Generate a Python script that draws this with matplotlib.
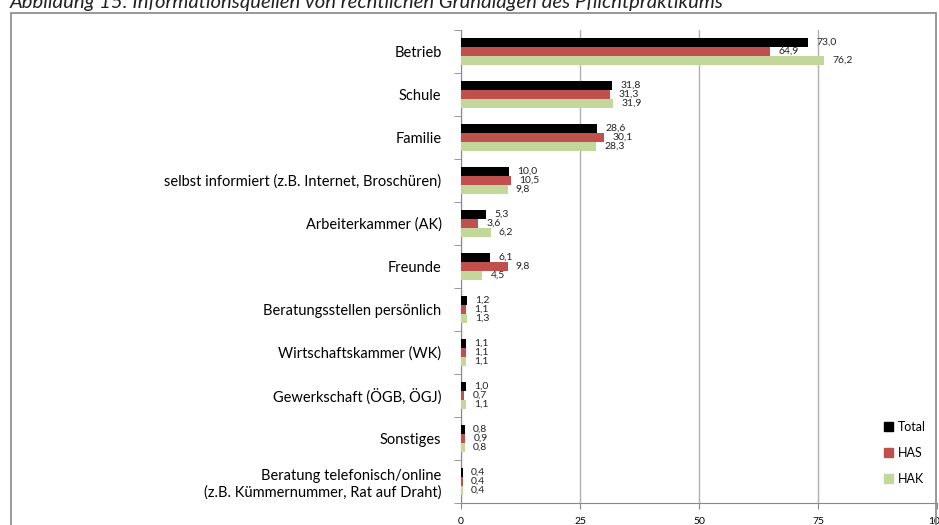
import matplotlib.pyplot as plt
import numpy as np
from matplotlib.patches import Rectangle, Patch

plt.rcParams['font.family'] = ['Lato', 'DejaVu Sans']

categories = ['Betrieb', 'Schule', 'Familie',
              'selbst informiert (z.B. Internet, Broschüren)',
              'Arbeiterkammer (AK)', 'Freunde',
              'Beratungsstellen persönlich', 'Wirtschaftskammer (WK)',
              'Gewerkschaft (ÖGB, ÖGJ)', 'Sonstiges',
              'Beratung telefonisch/online\n(z.B. Kümmernummer, Rat auf Draht)']
total = [73.0, 31.8, 28.6, 10.0, 5.3, 6.1, 1.2, 1.1, 1.0, 0.8, 0.4]
has = [64.9, 31.3, 30.1, 10.5, 3.6, 9.8, 1.1, 1.1, 0.7, 0.9, 0.4]
hak = [76.2, 31.9, 28.3, 9.8, 6.2, 4.5, 1.3, 1.1, 1.1, 0.8, 0.4]
series = ['Total', 'HAS', 'HAK']
colors = ['#000000', '#C0504D', '#C4D79B']
xticks = [0, 25, 50, 75, 100]

fig = plt.figure(figsize=(9.39, 5.25), dpi=100)
ax = fig.add_axes([461 / 939, 1 - 503 / 525, 476 / 939, 473 / 525])

# frame around the chart area
fig.patches.append(Rectangle((11 / 939, -0.05), 925 / 939, 1.05 - 13 / 525,
                             transform=fig.transFigure, fill=False,
                             edgecolor='#888888', linewidth=1.2))
fig.text(10 / 939, 1 - 8 / 525,
         'Abbildung 15: Informationsquellen von rechtlichen Grundlagen des Pflichtpraktikums',
         fontsize=14.6, style='italic', va='baseline', ha='left', color='#222222')

y = np.arange(len(categories))
h = 0.205
for i, (vals, c) in enumerate(zip([total, has, hak], colors)):
    pos = y + (i - 1) * h
    ax.barh(pos, vals, height=h, color=c, label=series[i], zorder=3)
    for p, v in zip(pos, vals):
        ax.annotate(f'{v:.1f}'.replace('.', ','), (v, p), xytext=(6, 0),
                    textcoords='offset points', va='center', ha='left',
                    fontsize=7.5, color='#222222')

ax.set_xlim(0, 100)
ax.set_ylim(len(categories) - 0.5, -0.5)
ax.set_xticks(xticks)
ax.set_xticklabels([str(t) for t in xticks], fontsize=7.5)
ax.set_yticks(y)
ax.set_yticklabels(categories, fontsize=10.5)
ax.set_yticks(np.arange(len(categories) + 1) - 0.5, minor=True)
ax.tick_params(axis='y', which='major', length=0, pad=14)
ax.tick_params(axis='y', which='minor', length=5, color='#888888')
ax.tick_params(axis='x', length=4, color='#888888', pad=6)
ax.grid(axis='x', color='#b0b0b0', linewidth=1, zorder=0)
for s in ['top', 'right']:
    ax.spines[s].set_visible(False)
for s in ['left', 'bottom']:
    ax.spines[s].set_color('#888888')

handles = [Patch(color=c) for c in colors]
ax.legend(handles, series, loc='lower right', bbox_to_anchor=(1.0, 0.015),
          frameon=False, handlelength=0.7, handleheight=0.7,
          labelspacing=1.1, handletextpad=0.4, fontsize=9)

fig.savefig('out.png', dpi=100)
